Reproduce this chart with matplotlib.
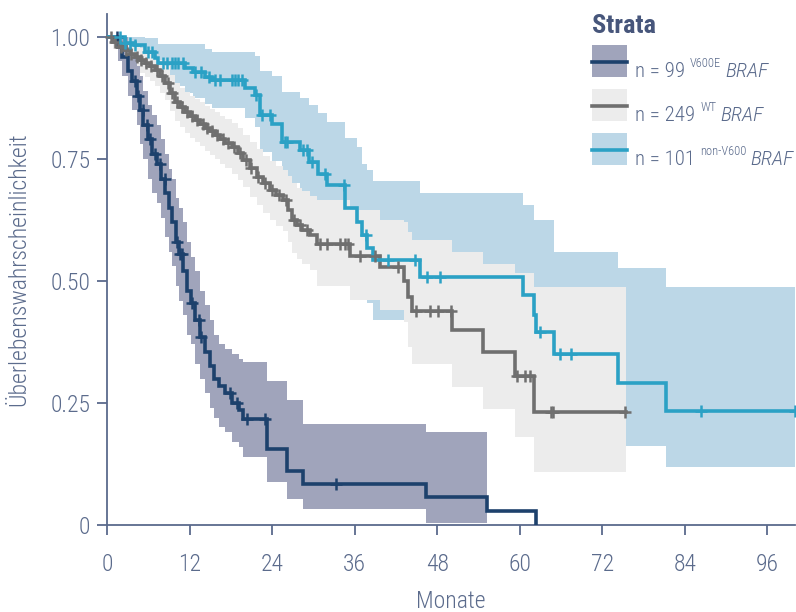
import numpy as np
import matplotlib
matplotlib.use("Agg")
import matplotlib.pyplot as plt
from matplotlib import font_manager
from matplotlib.patches import Rectangle
from matplotlib.lines import Line2D

# pick a font: condensed if we have one, Roboto otherwise
names = {f.name for f in font_manager.fontManager.ttflist}
FONT = "DejaVu Sans"
for cand in ["Roboto Condensed", "Roboto", "Liberation Sans Narrow"]:
    if cand in names:
        FONT = cand
        break
plt.rcParams["font.family"] = [FONT, "DejaVu Sans"]

TXT = "#5b6b8c"
AX = "#5a6a8c"

# ---- V600E BRAF (n = 99)
dark_t = [0, 1.6, 2.2, 3.0, 3.6, 4.3, 4.8, 5.3, 5.9, 6.6, 7.2, 7.9, 8.5, 9.0, 9.5, 10.0,
          10.5, 11.0, 11.6, 12.2, 12.8, 13.5, 14.3, 15.0, 15.6, 16.3, 17.2, 18.2, 19.2,
          19.8, 23.3, 26.2, 28.5, 46.3, 55.3, 62.3]
dark_s = [1.0, 0.98, 0.96, 0.93, 0.91, 0.88, 0.85, 0.82, 0.79, 0.76, 0.74, 0.71, 0.68, 0.65,
          0.62, 0.58, 0.555, 0.52, 0.48, 0.455, 0.42, 0.385, 0.355, 0.325, 0.30, 0.285, 0.27,
          0.25, 0.235, 0.217, 0.155, 0.11, 0.085, 0.057, 0.028, 0.0]
dark_lo = [1.0, 0.95, 0.92, 0.88, 0.85, 0.82, 0.78, 0.75, 0.71, 0.68, 0.66, 0.63, 0.59, 0.56,
           0.53, 0.49, 0.46, 0.43, 0.39, 0.37, 0.33, 0.30, 0.27, 0.24, 0.22, 0.20, 0.19, 0.17,
           0.16, 0.14, 0.088, 0.053, 0.033, 0.005, np.nan, np.nan]
dark_hi = [1.0, 1.0, 1.0, 0.98, 0.96, 0.94, 0.92, 0.89, 0.86, 0.84, 0.82, 0.79, 0.76, 0.73,
           0.71, 0.67, 0.65, 0.62, 0.58, 0.55, 0.52, 0.48, 0.45, 0.42, 0.39, 0.37, 0.36, 0.35,
           0.34, 0.335, 0.295, 0.256, 0.207, 0.19, np.nan, np.nan]
dark_cens = [1.4, 4.1, 4.5, 5.2, 5.8, 6.3, 7.0, 7.7, 8.4, 10.2, 10.6, 10.9, 12.3, 13.3, 13.6,
             17.9, 18.9, 20.4, 23.0, 33.3]
dark_end = 62.3

# ---- WT BRAF (n = 249)
gray_t = [0, 0.8, 1.8, 2.6, 3.4, 4.1, 4.8, 5.5, 6.2, 7.0, 7.7, 8.4, 9.1, 9.9, 10.6, 11.3, 12.0,
          12.8, 13.5, 14.3, 15.0, 15.7, 16.4, 17.2, 18.1, 19.0, 19.8, 20.8, 21.8, 22.7, 23.7,
          24.6, 25.6, 26.3, 26.9, 27.6, 28.4, 29.5, 30.5, 35.3, 39.7, 43.1, 43.8, 44.4, 50.2,
          54.7, 59.3, 62.0]
gray_s = [1.0, 0.99, 0.98, 0.973, 0.966, 0.96, 0.953, 0.947, 0.94, 0.932, 0.92, 0.906, 0.886,
          0.867, 0.856, 0.846, 0.838, 0.83, 0.822, 0.814, 0.807, 0.80, 0.79, 0.783, 0.774,
          0.762, 0.748, 0.731, 0.714, 0.70, 0.687, 0.677, 0.667, 0.646, 0.626, 0.615, 0.605,
          0.595, 0.575, 0.552, 0.528, 0.499, 0.468, 0.438, 0.399, 0.354, 0.305, 0.231]
gray_lo = [1.0, 0.975, 0.962, 0.952, 0.943, 0.935, 0.926, 0.918, 0.91, 0.9, 0.886, 0.87, 0.848,
           0.828, 0.815, 0.803, 0.794, 0.785, 0.776, 0.767, 0.758, 0.75, 0.739, 0.731, 0.72,
           0.707, 0.692, 0.673, 0.655, 0.64, 0.625, 0.613, 0.602, 0.58, 0.558, 0.546, 0.535,
           0.523, 0.49, 0.462, 0.44, 0.417, 0.364, 0.329, 0.282, 0.237, 0.18, 0.108]
gray_hi = [1.0, 1.0, 0.995, 0.99, 0.986, 0.982, 0.977, 0.973, 0.968, 0.962, 0.952, 0.94, 0.922,
           0.905, 0.895, 0.887, 0.88, 0.873, 0.866, 0.859, 0.853, 0.847, 0.838, 0.832, 0.824,
           0.813, 0.80, 0.785, 0.77, 0.757, 0.745, 0.736, 0.727, 0.715, 0.70, 0.69, 0.685,
           0.675, 0.665, 0.646, 0.625, 0.62, 0.60, 0.585, 0.56, 0.534, 0.517, 0.487]
gray_cens = [0.6, 1.2, 2.0, 2.8, 3.5, 4.3, 5.0, 5.7, 6.4, 7.2, 8.0, 8.8, 9.5, 10.2, 10.9, 11.6,
             12.4, 13.1, 13.9, 14.6, 15.3, 16.0, 16.8, 17.6, 18.4, 19.3, 20.2, 21.0, 22.0, 23.0,
             24.0, 25.0, 26.0, 27.2, 28.0, 29.0, 31.0, 32.0, 33.9, 34.6, 35.1, 36.8, 38.9, 42.3,
             44.9, 47.0, 48.1, 50.0, 59.6, 60.8, 61.5, 64.5, 64.8, 75.3]
gray_end = 75.4

# ---- non-V600 BRAF (n = 101)
cyan_t = [0, 2.6, 4.1, 5.5, 7.0, 7.4, 11.3, 12.5, 14.3, 15.3, 20.0, 21.5, 22.3, 24.0, 25.4,
          28.1, 29.3, 30.7, 32.0, 34.6, 36.4, 37.0, 37.8, 38.7, 45.5, 60.5, 62.0, 62.4, 64.9,
          74.3, 81.2]
cyan_s = [1.0, 0.988, 0.983, 0.969, 0.957, 0.947, 0.937, 0.928, 0.918, 0.912, 0.896, 0.881,
          0.84, 0.822, 0.785, 0.769, 0.744, 0.72, 0.697, 0.65, 0.62, 0.595, 0.568, 0.544, 0.509,
          0.472, 0.431, 0.395, 0.35, 0.292, 0.233]
cyan_lo = [1.0, 0.96, 0.95, 0.93, 0.915, 0.90, 0.885, 0.875, 0.862, 0.855, 0.835, 0.815, 0.765,
           0.745, 0.70, 0.68, 0.655, 0.628, 0.60, 0.55, 0.515, 0.49, 0.455, 0.42, 0.38, 0.34,
           0.30, 0.26, 0.22, 0.162, 0.119]
cyan_hi = [1.0, 1.0, 1.0, 0.998, 0.998, 0.985, 0.985, 0.985, 0.975, 0.97, 0.97, 0.962, 0.93,
           0.92, 0.887, 0.875, 0.86, 0.845, 0.826, 0.793, 0.775, 0.74, 0.728, 0.705, 0.681,
           0.656, 0.626, 0.626, 0.56, 0.527, 0.487]
cyan_cens = [1.9, 2.6, 3.3, 4.1, 5.9, 6.6, 8.1, 8.7, 9.5, 9.9, 10.3, 11.1, 12.8, 13.6, 14.8,
             15.7, 16.4, 18.2, 18.6, 19.1, 19.6, 21.6, 22.6, 23.7, 25.9, 26.2, 28.5, 29.0, 29.8,
             31.7, 34.5, 37.6, 40.9, 44.8, 46.5, 48.4, 63.0, 65.9, 67.5, 86.3, 100.0]
cyan_end = 100.0

# legend texts: (count, superscript, gene)
leg_n = ["n = 99", "n = 249", "n = 101"]
leg_sup = ["V600E", "WT", "non-V600"]
leg_gene = ["BRAF", "BRAF", "BRAF"]

groups = [
    dict(t=cyan_t, s=cyan_s, lo=cyan_lo, hi=cyan_hi, c=cyan_cens, end=cyan_end,
         line="#2ba1c5", band="#bcd7e7"),
    dict(t=gray_t, s=gray_s, lo=gray_lo, hi=gray_hi, c=gray_cens, end=gray_end,
         line="#6f6f6f", band="#ececec"),
    dict(t=dark_t, s=dark_s, lo=dark_lo, hi=dark_hi, c=dark_cens, end=dark_end,
         line="#1d416c", band="#a0a4bb"),
]

fig = plt.figure(figsize=(7.96, 6.12), dpi=100)
ax = fig.add_axes([107 / 796, 87 / 612, 688 / 796, 511 / 612])

# confidence bands first (cyan under gray under navy)
for z, g in enumerate(groups):
    t = np.array(g["t"], float)
    lo = np.array(g["lo"], float)
    hi = np.array(g["hi"], float)
    ok = np.where(np.isfinite(lo))[0]
    last = ok[-1]
    stop = t[last + 1] if last + 1 < len(t) else g["end"]
    xb = np.append(t[ok], stop)
    ax.fill_between(xb, np.append(lo[ok], lo[last]), np.append(hi[ok], hi[last]),
                    step="post", color=g["band"], lw=0, zorder=1 + z)

# survival curves and censor ticks
for g in groups[::-1]:
    t = np.array(g["t"], float)
    s = np.array(g["s"], float)
    if g["end"] > t[-1]:
        x = np.append(t, g["end"])
        y = np.append(s, s[-1])
    else:
        x, y = t, s
    ax.step(x, y, where="post", color=g["line"], lw=2.6, zorder=5, solid_joinstyle="miter")
    c = np.array(g["c"], float)
    cy = s[np.searchsorted(t, c, side="right") - 1]
    ax.plot(c, cy, ls="none", marker="+", ms=9, mew=1.8, color=g["line"], zorder=6,
            clip_on=False)

ax.set_xlim(0, 100)
ax.set_ylim(0, 511 / 488)
ax.set_xticks(range(0, 97, 12))
ax.set_yticks([0, 0.25, 0.5, 0.75, 1.0])
ax.set_yticklabels(["0", "0.25", "0.50", "0.75", "1.00"])
for sp in ["top", "right"]:
    ax.spines[sp].set_visible(False)
for sp in ["left", "bottom"]:
    ax.spines[sp].set_color(AX)
    ax.spines[sp].set_linewidth(1.3)
ax.tick_params(axis="both", colors=AX, labelcolor=TXT, length=7, width=1.3, labelsize=17)
ax.tick_params(axis="x", pad=13)
ax.tick_params(axis="y", pad=5)
for lab in ax.get_xticklabels() + ax.get_yticklabels():
    lab.set_fontweight("light")

ax.set_xlabel("Monate", fontsize=17, color=TXT, fontweight="light")
ax.xaxis.set_label_coords(0.5, -0.128)
ax.set_ylabel("Überlebenswahrscheinlichkeit", fontsize=17, color=TXT, fontweight="light")
ax.yaxis.set_label_coords(-0.112, 0.5)

# legend drawn by hand in figure pixels
W, H = 796, 612
fig.text(592 / W, 1 - 33 / H, "Strata", fontsize=19, fontweight="bold", color="#47567b",
         va="baseline", ha="left")
renderer = fig.canvas.get_renderer()
leg_items = [groups[2], groups[1], groups[0]]
leg_top = [45, 89, 133]
for n, sup, gene, g, y0 in zip(leg_n, leg_sup, leg_gene, leg_items, leg_top):
    fig.add_artist(Rectangle((592 / W, 1 - (y0 + 32) / H), 35 / W, 32 / H,
                             transform=fig.transFigure, color=g["band"], lw=0))
    fig.add_artist(Line2D([592 / W, 627 / W], [1 - (y0 + 16.5) / H] * 2,
                          transform=fig.transFigure, color=g["line"], lw=2.6))
    base = 1 - (y0 + 32) / H
    t1 = fig.text(635 / W, base, n, fontsize=15, color=TXT, va="baseline", ha="left",
                  fontweight="light")
    x1 = t1.get_window_extent(renderer).x1 + 5
    t2 = fig.text(x1 / W, base + 10 / H, sup, fontsize=9, color=TXT, va="baseline",
                  ha="left", fontweight="light")
    x2 = t2.get_window_extent(renderer).x1 + 4
    fig.text(x2 / W, base, gene, fontsize=15, color=TXT, va="baseline", ha="left",
             fontstyle="italic", fontweight="light")

fig.savefig("out.png", dpi=100)
